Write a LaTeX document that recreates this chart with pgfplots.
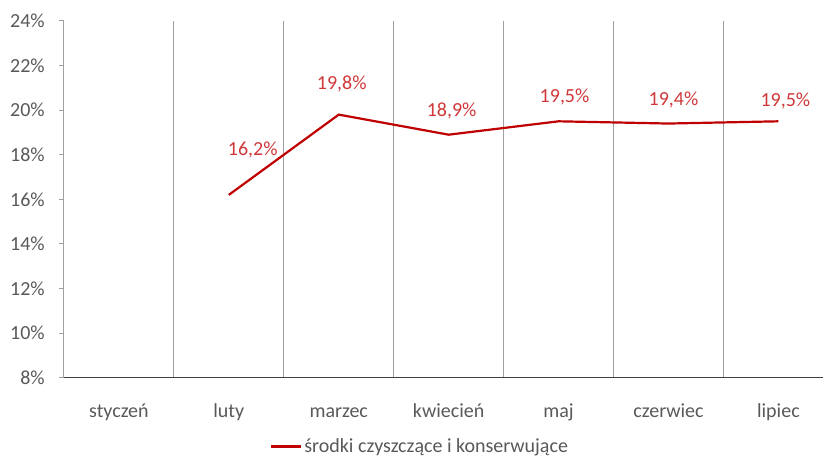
\documentclass[border=0pt]{standalone}
\usepackage{pgfplots}
\pgfplotsset{compat=1.18}
\usepackage{pgfplotstable}
\usepackage{fontspec}
\setmainfont{Carlito}
\definecolor{linered}{RGB}{192,0,0}
\definecolor{labred}{RGB}{208,56,58}
\definecolor{ticktxt}{RGB}{89,89,89}
\definecolor{gridg}{RGB}{160,160,160}
\definecolor{axdark}{RGB}{64,64,64}
\newcommand\cf{\fontsize{20bp}{24bp}\selectfont}
\pgfplotstableread{
x y dx dy
1 16.2 24 45
2 19.8 3 31
3 18.9 3 24
4 19.5 6 24
5 19.4 5 24
6 19.5 7 20
}\data
\begin{document}
\begin{tikzpicture}
\begin{axis}[name=ax, scale only axis, width=760bp, height=357bp,
  xmin=-0.5, xmax=6.409, ymin=8, ymax=24,
  /pgf/number format/assume math mode=true,
  axis lines*=left, clip=false,
  x axis line style={draw=axdark, line width=1.3bp},
  y axis line style={draw=gridg, line width=1bp},
  xtick={0,...,6},
  xticklabels={styczeń,luty,marzec,kwiecień,maj,czerwiec,lipiec},
  minor xtick={0.5,1.5,...,5.5},
  xminorgrids=true, minor grid style={draw=gridg, line width=0.8bp},
  minor tick length=0pt,
  major x tick style={draw=none},
  ytick={8,10,...,24},
  yticklabel={\pgfmathprintnumber{\tick}\%},
  tick align=outside, major tick length=5bp,
  major y tick style={draw=gridg, line width=1bp},
  ticklabel style={font=\cf, text=ticktxt},
  yticklabel style={anchor=east, inner sep=0pt, xshift=-14bp},
  xticklabel style={anchor=base, yshift=-35bp},
  legend style={at={(0.469,-0.193)}, anchor=center, draw=none, font=\cf, text=ticktxt, inner sep=0pt},
  legend image code/.code={\draw[#1] (0bp,0bp) -- (30bp,0bp);},
]
\addplot[linered, line width=2.2bp, mark=none,
  point meta=y,
  visualization depends on={\thisrow{dx}\as\dx},
  visualization depends on={\thisrow{dy}\as\dy},
  nodes near coords={\pgfmathprintnumber[fixed,fixed zerofill,precision=1,use comma]{\pgfplotspointmeta}\%},
  every node near coord/.append style={anchor=center, xshift=\dx bp, yshift=\dy bp, text=labred, font=\cf},
] table[x=x,y=y] {\data};
\addlegendentry{środki czyszczące i konserwujące}
\end{axis}
\path[use as bounding box] ([xshift=-64bp,yshift=-81bp]ax.south west) rectangle ([yshift=21bp]ax.north east);
\end{tikzpicture}
\end{document}
